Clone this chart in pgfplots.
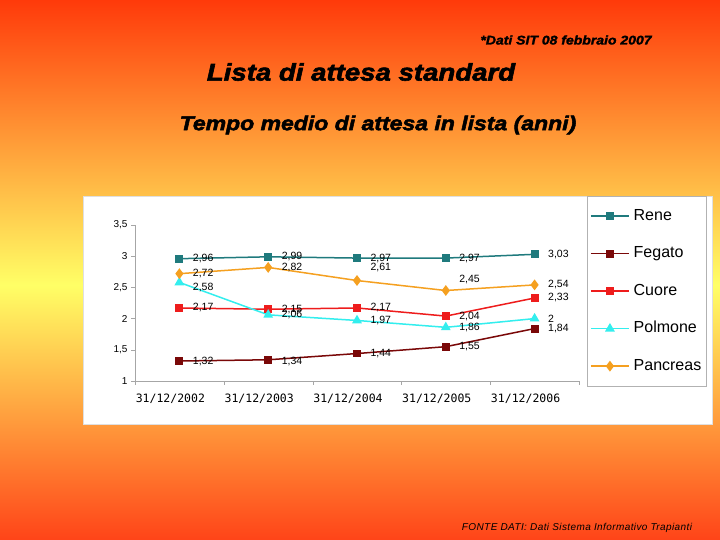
\documentclass[border=0pt]{standalone}
\usepackage{fontspec}
\setmainfont{Liberation Sans}
\newfontfamily\monof{DejaVu Sans Mono}
\newfontfamily\heavy{Liberation Sans Bold Italic}[FakeBold=2.5,FakeStretch=1.15]
\newfontfamily\heavysmall{Liberation Sans Bold Italic}[FakeBold=2,FakeStretch=1.12]
\newfontfamily\footf{Liberation Sans Italic}[LetterSpace=4]
\usepackage{pgfplots}
\usepackage{pgfplotstable}
\pgfplotsset{compat=1.18}
\definecolor{ctop}{HTML}{FF3A0A}
\definecolor{cmid}{HTML}{FFFF66}
\definecolor{cbot}{HTML}{FF4418}
\definecolor{cRene}{HTML}{1F7A7D}
\definecolor{cFegato}{HTML}{7A0808}
\definecolor{cCuore}{HTML}{EE1C1C}
\definecolor{cPolmone}{HTML}{33EEEE}
\definecolor{cPancreas}{HTML}{F5A020}
\pgfdeclareverticalshading{bgshade}{100bp}{color(0bp)=(cbot); color(25bp)=(cbot); color(48.6bp)=(cmid); color(75bp)=(ctop); color(100bp)=(ctop)}
\pgfplotsset{/pgf/number format/use comma, /pgf/number format/assume math mode=true}

\pgfplotstableread{
x y dy
0 2.96 0
1 2.99 0
2 2.97 0
3 2.97 0
4 3.03 0
}\tRene
\pgfplotstableread{
x y dy
0 1.32 0
1 1.34 -2
2 1.44 0
3 1.55 0
4 1.84 0
}\tFegato
\pgfplotstableread{
x y dy
0 2.17 0
1 2.15 0
2 2.17 0
3 2.04 0
4 2.33 0
}\tCuore
\pgfplotstableread{
x y dy
0 2.58 -5
1 2.06 0
2 1.97 0
3 1.86 0
4 2 0
}\tPolmone
\pgfplotstableread{
x y dy
0 2.72 0
1 2.82 0
2 2.61 13
3 2.45 11
4 2.54 0
}\tPancreas

\begin{document}
\begin{tikzpicture}[x=1pt,y=1pt]
\useasboundingbox (0,0) rectangle (720,540);
\shade[shading=bgshade] (0,0) rectangle (720,540);
\fill[white] (83,116) rectangle (712,344);
\draw[gray!25] (83,116) rectangle (712,344);

\node[font=\heavysmall\fontsize{12.5}{14}\selectfont] at (566,500) {*Dati SIT 08 febbraio 2007};
\node[font=\heavy\fontsize{24}{27}\selectfont] at (361,468) {Lista di attesa standard};
\node[font=\heavy\fontsize{20}{23}\selectfont] at (378,415) {Tempo medio di attesa in lista (anni)};
\node[font=\footf\fontsize{10}{11}\selectfont] at (577,12) {FONTE DATI: Dati Sistema Informativo Trapianti};

\begin{axis}[
  at={(135pt,159pt)}, anchor=south west,
  scale only axis, width=444pt, height=156pt,
  xmin=-0.5, xmax=4.5, ymin=1, ymax=3.5,
  axis x line=bottom, axis y line=left,
  axis line style={gray!70, -},
  tick align=outside,
  xtick={-0.5,0.5,1.5,2.5,3.5,4.5}, xticklabels={},
  extra x ticks={0,1,2,3,4},
  extra x tick labels={31/12/2002,31/12/2003,31/12/2004,31/12/2005,31/12/2006},
  extra x tick style={major tick length=0pt, xticklabel style={font=\monof\fontsize{11.5}{13}\selectfont, xshift=-9pt, yshift=-9pt}},
  major tick length=4pt,
  tick style={gray!70},
  ytick={1,1.5,2,2.5,3,3.5},
  yticklabel style={font=\fontsize{10}{11}\selectfont},
  clip=false,
  every axis plot/.append style={line width=1.5pt},
  visualization depends on={\thisrow{dy} \as \dy},
  nodes near coords,
  nodes near coords style={anchor=west, xshift=9.5pt, yshift=\dy pt, font=\fontsize{10.5}{11}\selectfont, text=black},
  legend style={at={(1.018,1.186)}, anchor=north west, draw=gray!60, fill=white,
    font=\fontsize{16}{17}\selectfont, inner xsep=3pt, inner ysep=11pt,
    nodes={inner sep=2pt, text height=11pt, text depth=3pt}, row sep=19.5pt, column sep=2pt},
  legend cell align=left,
  legend image code/.code={\draw[mark repeat=2,mark phase=2] plot coordinates {(0pt,0pt) (19pt,0pt) (38pt,0pt)};},
]
\addplot[color=cRene, mark=square*, mark size=3.2pt, mark options={solid}] table[x=x,y=y] {\tRene};
\addlegendentry{Rene}
\addplot[color=cFegato, mark=square*, mark size=3.2pt, mark options={solid}] table[x=x,y=y] {\tFegato};
\addlegendentry{Fegato}
\addplot[color=cCuore, mark=square*, mark size=3.2pt, mark options={solid}] table[x=x,y=y] {\tCuore};
\addlegendentry{Cuore}
\addplot[color=cPolmone, mark=triangle*, mark size=4.2pt, mark options={solid}] table[x=x,y=y] {\tPolmone};
\addlegendentry{Polmone}
\addplot[color=cPancreas, mark=diamond*, mark size=4.2pt, mark options={solid}] table[x=x,y=y] {\tPancreas};
\addlegendentry{Pancreas}
\end{axis}
\end{tikzpicture}
\end{document}
